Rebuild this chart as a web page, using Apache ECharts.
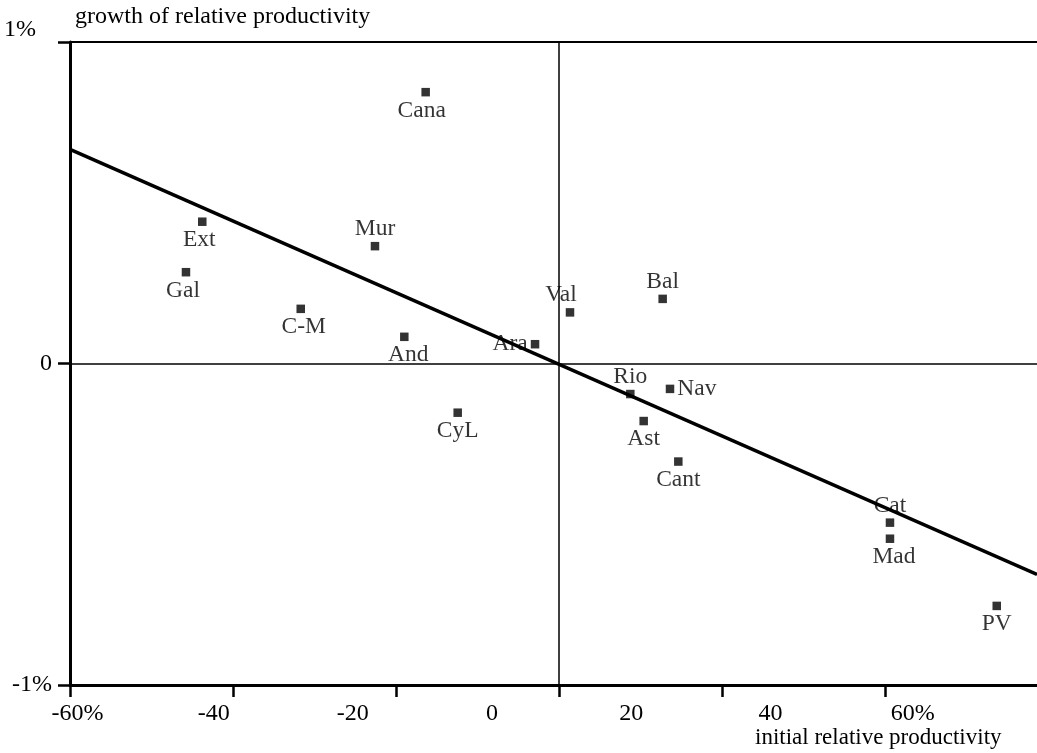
<!DOCTYPE html>
<html><head><meta charset="utf-8">
<script src="https://cdn.jsdelivr.net/npm/echarts@6/dist/echarts.min.js"></script>
<style>html,body{margin:0;padding:0;background:#fff}#c{width:1037px;height:753px}</style>
</head><body><div id="c"></div>
<script>
// ---- data ----
const regions = ['Cana','Ext','Mur','Gal','C-M','And','Ara','Val','Bal','Rio','Nav','Ast','CyL','Cant','Cat','Mad','PV'];
const initialProductivity = [-16.36,-43.77,-22.58,-45.77,-31.69,-18.98,-2.94,1.35,12.72,8.75,13.62,10.39,-12.43,14.64,40.61,40.61,53.71];
const growthProductivity = [0.844,0.441,0.365,0.284,0.170,0.083,0.060,0.159,0.201,-0.095,-0.079,-0.179,-0.153,-0.305,-0.495,-0.545,-0.754];
const fitX = [-60, 58.65];
const fitY = [0.666, -0.656];
const xTickValues = [-60,-40,-20,0,20,40];
const xTickLabels = [-60,-40,-20,0,20,40,60];
const yTickLabels = [-1,0,1];

// ---- label placement (presentation only) ----
const labelSide = ['bottom','bottom','top','bottom','bottom','bottom','left','top','top','top','right','bottom','bottom','bottom','top','bottom','bottom'];
const labelShiftX = {Val:-9, Cana:-4, Ext:-3, Gal:-3, 'C-M':3, And:4, Mad:4};

const FONT = '"Liberation Serif","Times New Roman",Times,serif';
const scatterData = regions.map((n,i)=>({
  name:n,
  value:[initialProductivity[i], growthProductivity[i]],
  label:{position:labelSide[i], offset:[labelShiftX[n]||0,0],
         distance: labelSide[i]==='bottom'?2:(labelSide[i]==='top'?1:3)}
}));

const chart = echarts.init(document.getElementById('c'), null, {renderer:'canvas'});
chart.setOption({
  animation:false,
  backgroundColor:'#fff',
  title:[
    {text:'growth of relative productivity', left:75, top:5, padding:0,
     textStyle:{fontFamily:FONT, fontSize:24, fontWeight:'normal', color:'#000'}},
    {text:'initial relative productivity', left:755, top:726, padding:0,
     textStyle:{fontFamily:FONT, fontSize:23, fontWeight:'normal', color:'#000'}}
  ],
  grid:{left:70, right:0, top:42, bottom:68, containLabel:false},
  xAxis:[
    {type:'value', min:-60, max:58.65, interval:20, position:'bottom',
     axisLine:{show:true, onZero:false, lineStyle:{color:'#000', width:3}},
     axisTick:{show:true, length:12, customValues:xTickValues, lineStyle:{color:'#000', width:2.5}},
     axisLabel:{show:false}, splitLine:{show:false}},
    {type:'value', min:-60.64, max:78.3, position:'bottom',
     axisLine:{show:false}, axisTick:{show:false}, splitLine:{show:false},
     axisLabel:{show:true, customValues:xTickLabels, margin:17,
       fontFamily:FONT, fontSize:24, color:'#000',
       formatter:v=> (Math.abs(v)===60 ? '{p|'+v+'%}' : String(v)),
       rich:{p:{fontFamily:FONT, fontSize:24, color:'#000', padding:[0,0,0,6]}}}}
  ],
  yAxis:{type:'value', min:-1, max:1, interval:1,
    axisLine:{show:true, onZero:false, lineStyle:{color:'#000', width:3}},
    axisTick:{show:true, length:12, lineStyle:{color:'#000', width:2.5}},
    splitLine:{show:false},
    axisLabel:{margin:18, fontFamily:FONT, fontSize:24, color:'#000',
      formatter:v=> v===1 ? '{t|1%}' : (v===-1 ? '-1%' : '0'),
      rich:{t:{fontFamily:FONT, fontSize:24, color:'#000', padding:[0,16,24,0]}}}
  },
  series:[
    {type:'line', xAxisIndex:0, data:fitX.map((x,i)=>[x,fitY[i]]),
     symbol:'none', lineStyle:{color:'#000', width:3.5}, silent:true, z:3},
    {type:'scatter', xAxisIndex:0, data:scatterData, symbol:'rect', symbolSize:8.5,
     itemStyle:{color:'#000'}, z:4,
     label:{show:true, formatter:'{b}', fontFamily:FONT, fontSize:23.5, color:'#000'},
     markLine:{silent:true, symbol:'none', label:{show:false},
       lineStyle:{color:'#000', width:1.5, type:'solid'},
       data:[{yAxis:0},{xAxis:0},{yAxis:1, lineStyle:{color:'#000', width:2.2, type:'solid'}}]}}
  ]
});
</script></body></html>
